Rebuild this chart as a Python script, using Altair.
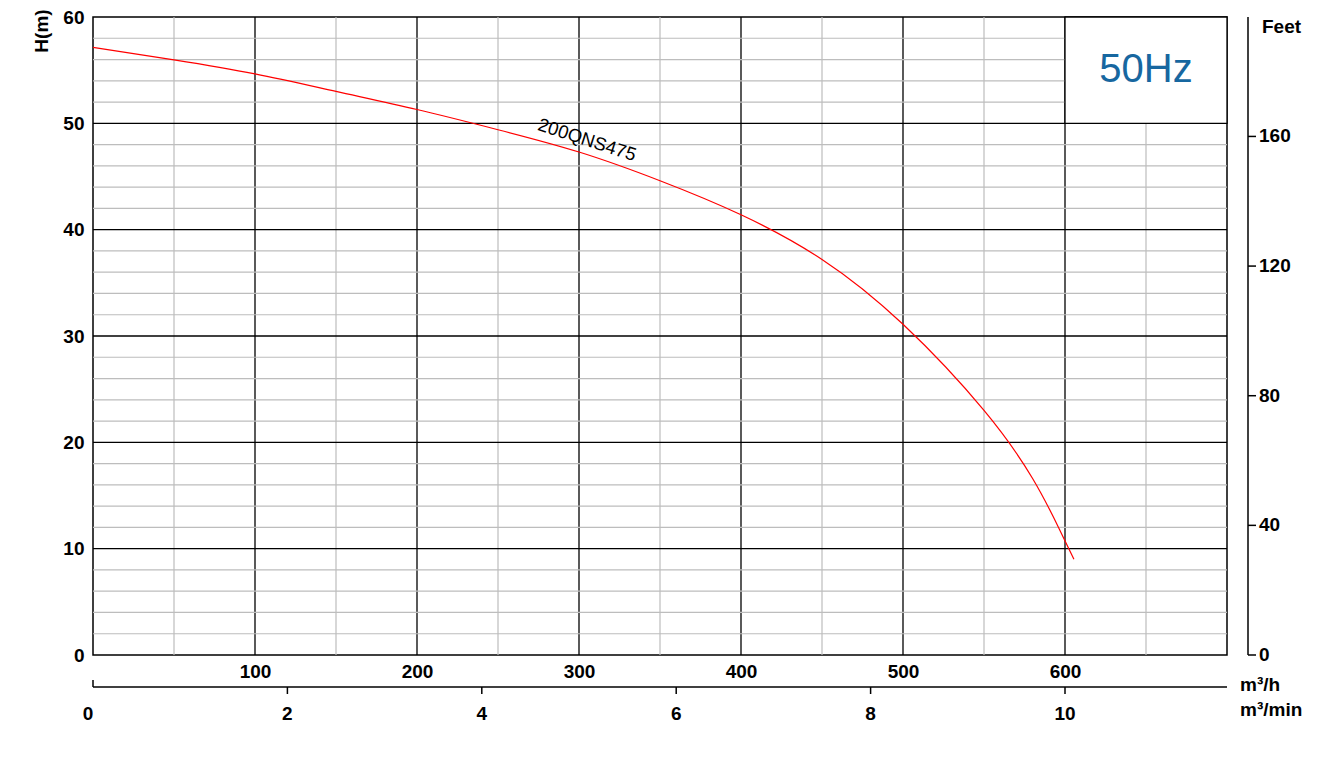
import altair as alt
import pandas as pd

# ---- data ----
flow_m3h = [0, 50, 100, 150, 200, 250, 300, 350, 400, 450, 500, 550, 580, 596, 605.5]
head_m = [57.15, 55.97, 54.65, 53.0, 51.3, 49.4, 47.3, 44.6, 41.4, 37.2, 31.1, 23.0, 16.6, 12.0, 9.0]

model_name = "200QNS475"
freq_label = "50Hz"

x_ticks_m3h = [100, 200, 300, 400, 500, 600]
x_ticks_m3min = [0, 2, 4, 6, 8, 10]
y_ticks_m = [0, 10, 20, 30, 40, 50, 60]
y_ticks_ft = [0, 40, 80, 120, 160]

x_major = [100, 200, 300, 400, 500, 600]
x_minor = [50, 150, 250, 350, 450, 550, 650]
y_major = [10, 20, 30, 40, 50]
y_minor = [2, 4, 6, 8, 12, 14, 16, 18, 22, 24, 26, 28, 32, 34, 36, 38, 42, 44, 46, 48, 52, 54, 56, 58]

X_MAX = 700
Y_MAX = 60
M3H_PER_M3MIN = 60
M_PER_FT = 0.3048

W, H = 1134, 638
FONT = "Liberation Sans"
FS = 19
FW = "bold"

xs = alt.Scale(domain=[0, X_MAX], nice=False, zero=False)
ys = alt.Scale(domain=[0, Y_MAX], nice=False, zero=False)

curve_df = pd.DataFrame({"Q": flow_m3h, "H": head_m})
one = pd.DataFrame({"a": [0]})

x_axis = alt.Axis(values=x_ticks_m3h, title=None, grid=False, ticks=False, tickSize=0, domain=False,
                  labelPadding=7, labelFontSize=FS, labelFontWeight=FW, labelColor="black", labelFont=FONT)
y_axis = alt.Axis(values=y_ticks_m, title=None, grid=False, ticks=False, tickSize=0, domain=False,
                  labelPadding=9, labelFontSize=FS, labelFontWeight=FW, labelColor="black", labelFont=FONT)

# invisible layer that carries the primary axes
axes_layer = alt.Chart(curve_df).mark_point(opacity=0).encode(
    x=alt.X("Q:Q", scale=xs, axis=x_axis), y=alt.Y("H:Q", scale=ys, axis=y_axis))

minor_v = alt.Chart(pd.DataFrame({"x": x_minor})).mark_rule(color="#bdbdbd", strokeWidth=1.2).encode(
    x=alt.X("x:Q", scale=xs, axis=x_axis))
major_v = alt.Chart(pd.DataFrame({"x": x_major})).mark_rule(color="black", strokeWidth=1.3).encode(
    x=alt.X("x:Q", scale=xs, axis=x_axis))
minor_h = alt.Chart(pd.DataFrame({"y": y_minor})).mark_rule(color="#bdbdbd", strokeWidth=1.2).encode(
    y=alt.Y("y:Q", scale=ys, axis=y_axis))
major_h = alt.Chart(pd.DataFrame({"y": y_major})).mark_rule(color="black", strokeWidth=1.3).encode(
    y=alt.Y("y:Q", scale=ys, axis=y_axis))

box = alt.Chart(pd.DataFrame({"x": [600], "x2": [700], "y": [50], "y2": [60]})).mark_rect(
    fill="white", stroke="black", strokeWidth=1.3).encode(
    x=alt.X("x:Q", scale=xs, axis=x_axis), x2="x2:Q",
    y=alt.Y("y:Q", scale=ys, axis=y_axis), y2="y2:Q")

box_text = alt.Chart(pd.DataFrame({"x": [650], "y": [55], "t": [freq_label]})).mark_text(
    fontSize=40, color="#1767a0", font=FONT, align="center", baseline="middle").encode(
    x=alt.X("x:Q", scale=xs, axis=x_axis), y=alt.Y("y:Q", scale=ys, axis=y_axis), text="t:N")

curve = alt.Chart(curve_df).mark_line(color="#ff0000", strokeWidth=1.2, interpolate="natural").encode(
    x=alt.X("Q:Q", scale=xs, axis=x_axis), y=alt.Y("H:Q", scale=ys, axis=y_axis))

curve_label = alt.Chart(pd.DataFrame({"x": [305], "y": [48.45], "t": [model_name]})).mark_text(
    fontSize=18.5, angle=18, color="black", font=FONT, align="center", baseline="middle").encode(
    x=alt.X("x:Q", scale=xs, axis=x_axis), y=alt.Y("y:Q", scale=ys, axis=y_axis), text="t:N")

# ---- secondary bottom axis (m³/min), drawn through the m³/h scale ----
min_df = pd.DataFrame({"v": x_ticks_m3min})
min_df["x"] = min_df["v"] * M3H_PER_M3MIN
min_domain = alt.Chart(one).mark_rule(color="black", strokeWidth=1.5).encode(
    x=alt.datum(0, scale=xs, axis=x_axis), x2=alt.datum(X_MAX), y=alt.value(670))
min_ticks = alt.Chart(min_df[min_df["v"] > 0]).mark_rule(color="black", strokeWidth=1.5).encode(
    x=alt.X("x:Q", scale=xs, axis=x_axis), y=alt.value(670), y2=alt.value(677))
min_left_tick = alt.Chart(one).mark_rule(color="black", strokeWidth=1.5).encode(
    x=alt.value(0), y=alt.value(663), y2=alt.value(670))
min_labels = alt.Chart(min_df[min_df["v"] > 0]).mark_text(fontSize=FS, fontWeight=FW, color="black",
                                                          font=FONT, align="center", baseline="middle").encode(
    x=alt.X("x:Q", scale=xs, axis=x_axis), y=alt.value(697), text="v:N")
min_zero = alt.Chart(min_df[min_df["v"] == 0]).mark_text(fontSize=FS, fontWeight=FW, color="black",
                                                         font=FONT, align="center", baseline="middle",
                                                         dx=-5).encode(
    x=alt.X("x:Q", scale=xs, axis=x_axis), y=alt.value(697), text="v:N")

# ---- secondary right axis (Feet), drawn through the metre scale ----
ft_df = pd.DataFrame({"v": y_ticks_ft})
ft_df["y"] = ft_df["v"] * M_PER_FT
ft_domain = alt.Chart(one).mark_rule(color="black", strokeWidth=1.5).encode(
    y=alt.datum(0, scale=ys, axis=y_axis), y2=alt.datum(Y_MAX), x=alt.value(1155))
ft_ticks = alt.Chart(ft_df).mark_rule(color="black", strokeWidth=1.5).encode(
    y=alt.Y("y:Q", scale=ys, axis=y_axis), x=alt.value(1155), x2=alt.value(1163))
ft_labels = alt.Chart(ft_df).mark_text(fontSize=FS, fontWeight=FW, color="black", font=FONT,
                                       align="left", baseline="middle").encode(
    y=alt.Y("y:Q", scale=ys, axis=y_axis), x=alt.value(1166), text="v:N")

def pix_text(label, px, py, align="left", angle=0, size=FS):
    return alt.Chart(pd.DataFrame({"t": [label]})).mark_text(
        fontSize=size, fontWeight=FW, color="black", font=FONT, align=align, baseline="middle",
        angle=angle).encode(x=alt.value(px), y=alt.value(py), text="t:N")

unit_h = pix_text("m³/h", 1147, 668)
unit_min = pix_text("m³/min", 1147, 693)
feet_title = pix_text("Feet", 1169, 10)
h_title = pix_text("H(m)", -51, 14, align="center", angle=270)

chart = alt.layer(
    axes_layer,
    minor_v, major_v, minor_h, major_h, box, box_text, curve, curve_label,
    min_domain, min_ticks, min_left_tick, min_labels, min_zero,
    ft_domain, ft_ticks, ft_labels,
    unit_h, unit_min, feet_title, h_title,
).properties(
    width=W, height=H,
    padding={"left": 85, "top": 9, "right": 90, "bottom": 100},
    autosize=alt.AutoSizeParams(type="none"),
).configure(font=FONT).configure_view(stroke="black", strokeWidth=1.5)

chart.save("out.html", embed_options={"renderer": "svg", "actions": False})
